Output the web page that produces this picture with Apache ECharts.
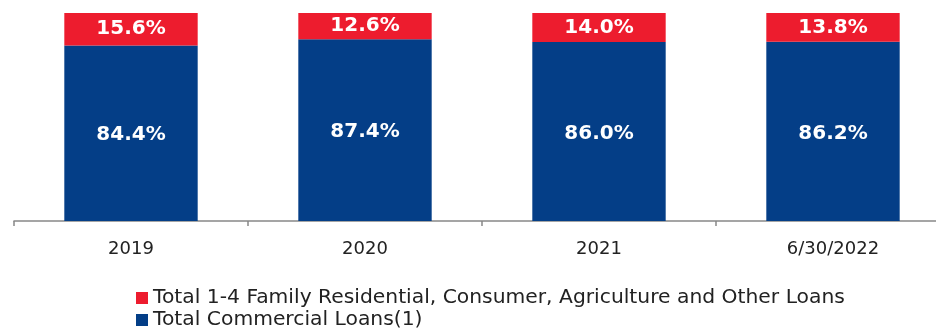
<!DOCTYPE html>
<html><head><meta charset="utf-8">
<script src="https://cdn.jsdelivr.net/npm/echarts@6/dist/echarts.min.js"></script>
<style>html,body{margin:0;padding:0;background:#fff}#c{width:936px;height:329px}</style>
</head><body><div id="c"></div>
<script>
const categories = ['2019', '2020', '2021', '6/30/2022'];
const commercial = [84.4, 87.4, 86.0, 86.2];
const otherLoans = [15.6, 12.6, 14.0, 13.8];
const seriesNames = ['Total Commercial Loans(1)', 'Total 1-4 Family Residential, Consumer, Agriculture and Other Loans'];

const chart = echarts.init(document.getElementById('c'));
const lbl = {show: true, position: 'inside', color: '#fff', fontFamily: 'DejaVu Sans', fontWeight: 'bold', fontSize: 20,
  formatter: p => p.value.toFixed(1) + '%'};
const legendBase = {
  orient: 'horizontal', left: 136, padding: 0, itemWidth: 12, itemHeight: 12, itemGap: 4, icon: 'rect',
  textStyle: {fontFamily: 'DejaVu Sans', fontSize: 20.3, color: '#222', padding: [0, 0, 0, 0]}
};
chart.setOption({
  animation: false,
  grid: {left: 14, width: 936, top: 13, height: 208, outerBoundsMode: 'none', containLabel: false},
  legend: [
    Object.assign({}, legendBase, {top: 288, data: [seriesNames[1]]}),
    Object.assign({}, legendBase, {top: 310, data: [seriesNames[0]]})
  ],
  xAxis: {
    type: 'category', data: categories,
    axisLine: {lineStyle: {color: '#888', width: 1.5}},
    axisTick: {show: true, length: 5, lineStyle: {color: '#888', width: 1.5}},
    axisLabel: {fontFamily: 'DejaVu Sans', fontSize: 18, color: '#222', margin: 19}
  },
  yAxis: {type: 'value', min: 0, max: 100, show: false, splitLine: {show: false}},
  series: [
    {name: seriesNames[0], type: 'bar', stack: 's', data: commercial, barWidth: '57%',
     itemStyle: {color: '#043E87'}, label: Object.assign({}, lbl, {offset: [0, 2]})},
    {name: seriesNames[1], type: 'bar', stack: 's', data: otherLoans, barWidth: '57%',
     itemStyle: {color: '#ED1C2E'}, label: lbl}
  ]
});
</script></body></html>
